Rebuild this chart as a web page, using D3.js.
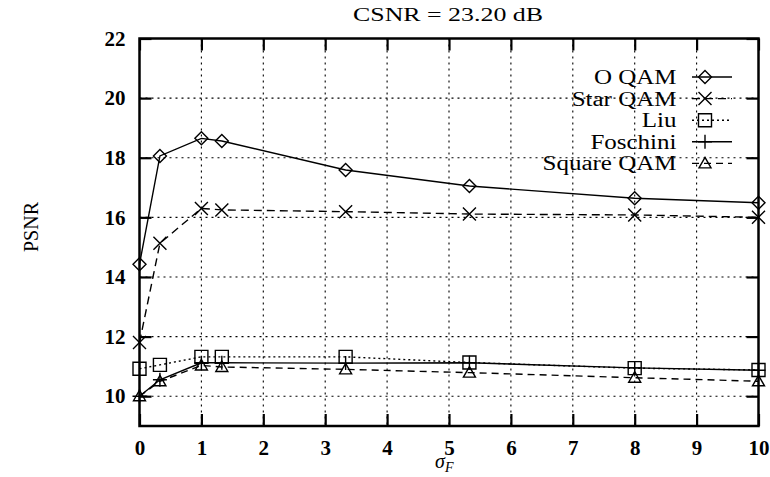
<!DOCTYPE html>
<html>
<head>
<meta charset="utf-8">
<script src="https://cdn.jsdelivr.net/npm/d3@7"></script>
<style>
  body { margin: 0; background: #fff; }
  svg { display: block; font-family: "Liberation Serif", "DejaVu Serif", serif; }
</style>
</head>
<body>
<div id="chart"></div>
<script>
// data
const sigmaF = [0, 0.33, 1, 1.33, 3.33, 5.33, 8, 10];
const oQam = [14.43, 18.06, 18.65, 18.56, 17.59, 17.05, 16.64, 16.49];
const starQam = [11.80, 15.13, 16.30, 16.25, 16.19, 16.11, 16.08, 16.00];
const liu = [10.92, 11.05, 11.32, 11.32, 11.32, 11.13, 10.94, 10.88];
const foschini = [10.0, 10.55, 11.12, 11.12, 11.11, 11.12, 10.95, 10.87];
const squareQam = [10.0, 10.50, 11.03, 10.98, 10.90, 10.79, 10.62, 10.50];

const seriesNames = ["O QAM", "Star QAM", "Liu", "Foschini", "Square QAM"];
const xTicks = [0, 1, 2, 3, 4, 5, 6, 7, 8, 9, 10];
const yTicks = [10, 12, 14, 16, 18, 20, 22];

const width = 770, height = 477;
const plot = {left: 139.5, right: 758.5, top: 38.5, bottom: 426};

const svg = d3.select("#chart").append("svg")
    .attr("width", width)
    .attr("height", height);

const x = d3.scaleLinear().domain([0, 10]).range([plot.left, plot.right]);
const y = d3.scaleLinear().domain([9, 22]).range([plot.bottom, plot.top]);

// marker shapes, centred on 0,0
const markers = {
    diamond: s => `M0,${-s}L${s},0L0,${s}L${-s},0Z`,
    cross: s => `M${-s},${-s}L${s},${s}M${-s},${s}L${s},${-s}`,
    square: s => `M${-s},${-s}H${s}V${s}H${-s}Z`,
    plus: s => `M${-s},0H${s}M0,${-s}V${s}`,
    triangle: s => `M0,${-s}L${s},${s * 0.75}L${-s},${s * 0.75}Z`
};

const series = [
    {name: seriesNames[0], values: oQam, dash: null, marker: "diamond", size: 6.5},
    {name: seriesNames[1], values: starQam, dash: "8,5", marker: "cross", size: 6.5},
    {name: seriesNames[2], values: liu, dash: "2,3", marker: "square", size: 6.5},
    {name: seriesNames[3], values: foschini, dash: null, marker: "plus", size: 7},
    {name: seriesNames[4], values: squareQam, dash: "7,5", marker: "triangle", size: 6}
];

// grid
const grid = svg.append("g")
    .attr("stroke", "#000")
    .attr("stroke-width", 1.1)
    .attr("stroke-dasharray", "2,4");

grid.selectAll(".vgrid")
    .data(xTicks.slice(1, -1))
    .join("line")
    .attr("x1", d => x(d)).attr("x2", d => x(d))
    .attr("y1", plot.top).attr("y2", plot.bottom);

grid.selectAll(".hgrid")
    .data(yTicks.slice(0, -1))
    .join("line")
    .attr("x1", plot.left).attr("x2", plot.right)
    .attr("y1", d => y(d)).attr("y2", d => y(d));

// axes, ticks pointing inwards
const tickLen = 12;
const fontTicks = "21px";

const gx = svg.append("g")
    .attr("transform", `translate(0,${plot.bottom})`)
    .call(d3.axisBottom(x).tickValues(xTicks).tickSizeInner(-tickLen).tickSizeOuter(0).tickPadding(14));
const gy = svg.append("g")
    .attr("transform", `translate(${plot.left},0)`)
    .call(d3.axisLeft(y).tickValues(yTicks).tickSizeInner(-tickLen).tickSizeOuter(0).tickPadding(14));
const gxTop = svg.append("g")
    .attr("transform", `translate(0,${plot.top})`)
    .call(d3.axisTop(x).tickValues(xTicks).tickSizeInner(-tickLen).tickSizeOuter(0).tickFormat(""));
const gyRight = svg.append("g")
    .attr("transform", `translate(${plot.right},0)`)
    .call(d3.axisRight(y).tickValues(yTicks).tickSizeInner(-tickLen).tickSizeOuter(0).tickFormat(""));

[gx, gy, gxTop, gyRight].forEach(g => {
    g.select(".domain").remove();
    g.selectAll(".tick line").attr("stroke", "#000").attr("stroke-width", 2.2);
    g.selectAll(".tick text")
        .attr("fill", "#000")
        .style("font-family", "'Liberation Serif', serif")
        .style("font-size", fontTicks)
        .style("font-weight", "600");
});

// frame
svg.append("rect")
    .attr("x", plot.left).attr("y", plot.top)
    .attr("width", plot.right - plot.left)
    .attr("height", plot.bottom - plot.top)
    .attr("fill", "none")
    .attr("stroke", "#000")
    .attr("stroke-width", 2.5);

// lines + points
const line = d3.line()
    .x((d, i) => x(sigmaF[i]))
    .y(d => y(d));

const sG = svg.append("g").selectAll("g")
    .data(series)
    .join("g");

sG.append("path")
    .attr("d", d => line(d.values))
    .attr("fill", "none")
    .attr("stroke", "#000")
    .attr("stroke-width", 1.4)
    .attr("stroke-dasharray", d => d.dash);

sG.each(function (s) {
    d3.select(this).selectAll(".pt")
        .data(s.values)
        .join("path")
        .attr("class", "pt")
        .attr("transform", (v, i) => `translate(${x(sigmaF[i])},${y(v)})`)
        .attr("d", markers[s.marker](s.size))
        .attr("fill", "none")
        .attr("stroke", "#000")
        .attr("stroke-width", 1.4);
});

// legend
const legX = 676.5, legY0 = 77, legStep = 21.6;
const leg = svg.append("g").selectAll("g")
    .data(series)
    .join("g")
    .attr("transform", (d, i) => `translate(0,${legY0 + i * legStep})`);

leg.append("text")
    .attr("transform", `translate(${legX},7) scale(1.25,1)`)
    .attr("text-anchor", "end")
    .style("font-size", "20px")
    .text(d => d.name);

leg.append("line")
    .attr("x1", 692).attr("x2", 732)
    .attr("stroke", "#000")
    .attr("stroke-width", 1.4)
    .attr("stroke-dasharray", d => d.dash);

leg.append("path")
    .attr("transform", "translate(705,0)")
    .attr("d", d => markers[d.marker](d.size))
    .attr("fill", "none")
    .attr("stroke", "#000")
    .attr("stroke-width", 1.4);

// title
svg.append("text")
    .attr("x", 353).attr("y", 20.5)
    .attr("textLength", 190)
    .attr("lengthAdjust", "spacingAndGlyphs")
    .style("font-size", "18px")
    .text("CSNR = 23.20 dB");

// axis labels
const xl = svg.append("text")
    .attr("x", 435).attr("y", 468)
    .style("font-style", "italic")
    .style("font-size", "20px")
    .text("σ");
xl.append("tspan")
    .attr("dy", 4)
    .style("font-size", "14px")
    .text("F");

svg.append("text")
    .attr("transform", "translate(38,227) rotate(-90)")
    .attr("text-anchor", "middle")
    .style("font-size", "20px")
    .text("PSNR");
</script>
</body>
</html>
